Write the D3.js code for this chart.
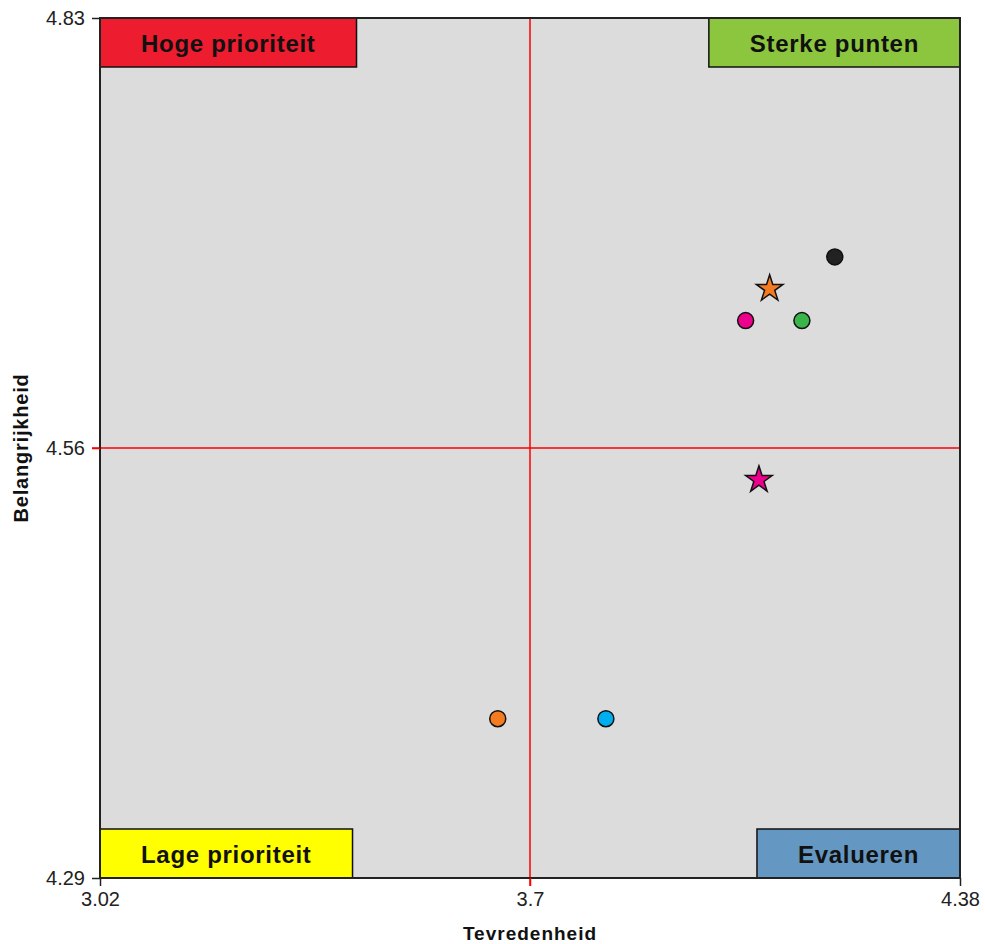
<!DOCTYPE html>
<html>
<head>
<meta charset="utf-8">
<script src="https://cdn.jsdelivr.net/npm/d3@7"></script>
<style>
  body { margin: 0; background: #fff; }
  text { font-family: "Liberation Sans", Arial, sans-serif; }
</style>
</head>
<body>
<div id="chart"></div>
<script>
// data
const xDomain = [3.02, 4.38];
const yDomain = [4.29, 4.83];
const xTicks = [3.02, 3.7, 4.38];
const yTicks = [4.29, 4.56, 4.83];
const xMid = 3.7;
const yMid = 4.56;

const pointX = [4.182, 4.079, 4.041, 4.130, 4.062, 3.649, 3.820];
const pointY = [4.680, 4.660, 4.640, 4.640, 4.540, 4.390, 4.390];
const pointShape = ['circle', 'star', 'circle', 'circle', 'star', 'circle', 'circle'];
const pointColor = ['#222222', '#f47b20', '#ec008c', '#39b54a', '#ec008c', '#f47b20', '#00aeef'];

const quadLabels = ['Hoge prioriteit', 'Sterke punten', 'Lage prioriteit', 'Evalueren'];
const quadColors = ['#ed1c2e', '#8cc63f', '#ffff00', '#6497c1'];
const quadCorner = ['tl', 'tr', 'bl', 'br'];

const xTitle = 'Tevredenheid';
const yTitle = 'Belangrijkheid';

const W = 985, H = 944;
const margin = { top: 18, right: 25, bottom: 66, left: 100 };
const width = W - margin.left - margin.right;
const height = H - margin.top - margin.bottom;

const svg = d3.select('#chart').append('svg')
  .attr('width', W)
  .attr('height', H);

const g = svg.append('g')
  .attr('transform', `translate(${margin.left}, ${margin.top})`);

const x = d3.scaleLinear().domain(xDomain).range([0, width]);
const y = d3.scaleLinear().domain(yDomain).range([height, 0]);

// background
g.append('rect')
  .attr('width', width)
  .attr('height', height)
  .attr('fill', '#dcdcdc');

// mid lines (run out past the axes like a tick)
g.append('line')
  .attr('x1', x(xMid)).attr('x2', x(xMid))
  .attr('y1', 0).attr('y2', height + 8)
  .attr('stroke', '#ff0000').attr('stroke-width', 1.5);
g.append('line')
  .attr('x1', -8).attr('x2', width)
  .attr('y1', y(yMid)).attr('y2', y(yMid))
  .attr('stroke', '#ff0000').attr('stroke-width', 1.5);

// quadrant label boxes
const boxH = 49;
const labels = g.append('g').selectAll('g')
  .data(quadLabels)
  .enter()
  .append('g');

labels.each(function (d, i) {
  const grp = d3.select(this);
  const t = grp.append('text')
    .attr('font-size', 24)
    .attr('font-weight', 'bold')
    .attr('letter-spacing', 0.7)
    .attr('fill', '#111')
    .attr('text-anchor', 'middle')
    .attr('dominant-baseline', 'central')
    .text(d);
  const bw = t.node().getComputedTextLength() + 82;
  const corner = quadCorner[i];
  const bx = corner[1] === 'l' ? 0 : width - bw;
  const by = corner[0] === 't' ? 0 : height - boxH;
  grp.insert('rect', 'text')
    .attr('x', bx).attr('y', by)
    .attr('width', bw).attr('height', boxH)
    .attr('fill', quadColors[i])
    .attr('stroke', '#111')
    .attr('stroke-width', 1.5);
  t.attr('x', bx + bw / 2).attr('y', by + boxH / 2 + 1);
});

// plot border
g.append('rect')
  .attr('width', width)
  .attr('height', height)
  .attr('fill', 'none')
  .attr('stroke', '#222')
  .attr('stroke-width', 2);

// axes
const xAxis = g.append('g')
  .attr('transform', `translate(0, ${height})`)
  .call(d3.axisBottom(x).tickValues(xTicks).tickSize(8).tickPadding(6).tickFormat(d3.format('')));
const yAxis = g.append('g')
  .call(d3.axisLeft(y).tickValues(yTicks).tickSize(8).tickPadding(7).tickFormat(d3.format('')));

[xAxis, yAxis].forEach(a => {
  a.select('.domain').remove();
  a.selectAll('.tick line').attr('stroke', '#222').attr('stroke-width', 1.5);
  a.selectAll('.tick text')
    .attr('font-size', 20)
    .attr('fill', '#222')
    .style('font-family', '"Liberation Sans", Arial, sans-serif');
});
xAxis.selectAll('.tick').filter(d => d === xMid).select('line').attr('stroke', '#ff0000');
yAxis.selectAll('.tick').filter(d => d === yMid).select('line').attr('stroke', '#ff0000');

// points
g.append('g').selectAll('path')
  .data(pointX.map((v, i) => i))
  .enter()
  .append('path')
  .attr('transform', i => `translate(${x(pointX[i])}, ${y(pointY[i])})`)
  .attr('d', i => pointShape[i] === 'star'
    ? d3.symbol().type(d3.symbolStar).size(220)()
    : d3.symbol().type(d3.symbolCircle).size(Math.PI * 64)())
  .attr('fill', i => pointColor[i])
  .attr('stroke', '#111')
  .attr('stroke-width', 1.5);

// axis titles
svg.append('text')
  .attr('x', margin.left + x(xMid))
  .attr('y', 940)
  .attr('text-anchor', 'middle')
  .attr('font-size', 19)
  .attr('font-weight', 'bold')
  .attr('letter-spacing', 1)
  .attr('fill', '#111')
  .text(xTitle);

svg.append('text')
  .attr('transform', `translate(28, ${margin.top + y(yMid)}) rotate(-90)`)
  .attr('text-anchor', 'middle')
  .attr('font-size', 20)
  .attr('font-weight', 'bold')
  .attr('letter-spacing', 0.8)
  .attr('fill', '#111')
  .text(yTitle);
</script>
</body>
</html>
